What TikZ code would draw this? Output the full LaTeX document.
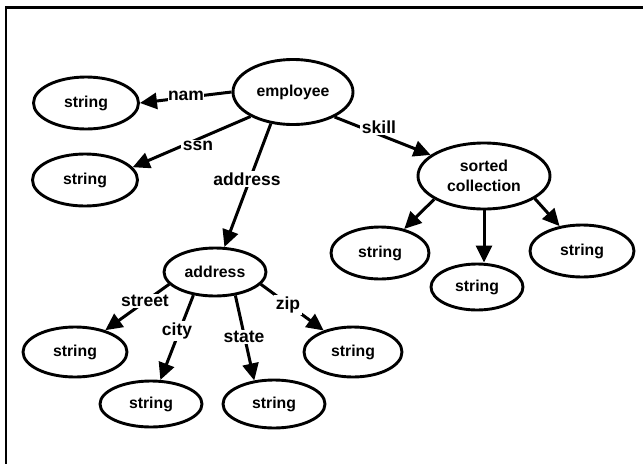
\documentclass[tikz,border=0pt]{standalone}
\usepackage{fontspec}
\setmainfont{Liberation Sans}
\usetikzlibrary{arrows.meta,shapes.geometric}
\begin{document}
\begin{tikzpicture}[x=1pt,y=-1pt,
  obj/.style={draw,ellipse,line width=2.9pt,fill=white,inner sep=0pt,align=center,
    font=\bfseries\fontsize{15.8}{20}\selectfont},
  rel/.style={line width=3pt,-{Triangle[length=17pt,width=16pt]}},
  lbl/.style={fill=white,inner sep=1.5pt,font=\bfseries\fontsize{17.5}{18}\selectfont},
  frameline/.style={line width=2.2pt}]
\useasboundingbox (0,0) rectangle (643,464);
% frame
\coordinate (ftl) at (6,7.5);
\coordinate (ftr) at (643,7.5);
\coordinate (fbl) at (6,464);
\draw[frameline] (ftr) -- (ftl) -- (fbl);
% nodes
\node[obj,minimum width=120pt,minimum height=65pt] (emp) at (293,92) {employee};
\node[obj,minimum width=105pt,minimum height=52pt] (snam) at (86,103) {string};
\node[obj,minimum width=105pt,minimum height=52pt] (sssn) at (85,180) {string};
\node[obj,minimum width=102pt,minimum height=48pt] (addr) at (215,272) {address};
\node[obj,minimum width=132pt,minimum height=66pt] (sc) at (484,176) {sorted\\collection};
\node[obj,minimum width=98pt,minimum height=52pt] (s1) at (380,253) {string};
\node[obj,minimum width=92pt,minimum height=46pt] (s2) at (477,287) {string};
\node[obj,minimum width=104pt,minimum height=52pt] (s3) at (582,251) {string};
\node[obj,minimum width=104pt,minimum height=50pt] (street) at (75,352) {string};
\node[obj,minimum width=102pt,minimum height=46pt] (city) at (151,404) {string};
\node[obj,minimum width=102pt,minimum height=48pt] (state) at (274,404) {string};
\node[obj,minimum width=98pt,minimum height=50pt] (zip) at (353,352) {string};
% edges
\draw[rel] (emp.west) -- (snam.east);
\draw[rel] (emp.210) -- (sssn.15);
\draw[rel] (emp.235) -- (addr);
\draw[rel] (emp.329) -- (sc);
\draw[rel] (sc.205) -- (s1);
\draw[rel] (sc.south) -- (sc.south |- s2.north);
\draw[rel] (sc.336) -- (s3);
\draw[rel] (addr.195) -- (street);
\draw[rel] (addr.227) -- (city);
\draw[rel] (addr.311) -- (state.130);
\draw[rel] (addr.345) -- (zip);
% labels
\node[lbl,inner xsep=0pt] (lnam) at (186,96) {nam};
\node[lbl] (lssn) at (198,146) {ssn};
\node[lbl] (laddr) at (247,179) {address};
\node[lbl] (lskill) at (379,127) {skill};
\node[lbl] (lstreet) at (145,301) {street};
\node[lbl] (lcity) at (177,331) {city};
\node[lbl] (lstate) at (244,337) {state};
\node[lbl] (lzip) at (288,305) {zip};
\end{tikzpicture}
\end{document}
